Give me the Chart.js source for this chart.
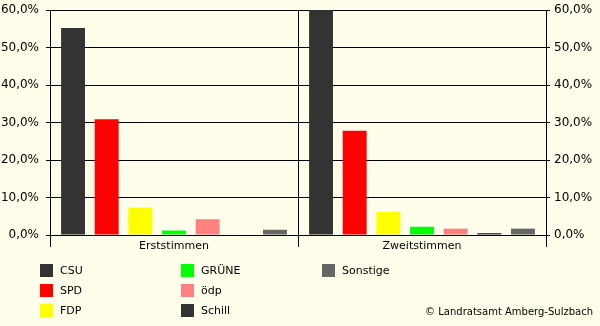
<!DOCTYPE html>
<html>
<head>
<meta charset="utf-8">
<script src="https://cdn.jsdelivr.net/npm/chart.js@4/dist/chart.umd.min.js"></script>
<style>
  html, body { margin: 0; padding: 0; background: #fffeea; }
  #wrap { width: 600px; height: 326px; position: relative; }
</style>
</head>
<body>
<div id="wrap"><canvas id="chart" width="600" height="326"></canvas></div>
<script>
// categories and values (percent)
const categories = ['Erststimmen', 'Zweitstimmen'];
const parties = ['CSU', 'SPD', 'FDP', 'GRÜNE', 'ödp', 'Schill', 'Sonstige'];
const partyColors = ['#333333', '#ff0000', '#ffff00', '#00ff00', '#ff8080', '#333333', '#666666'];
const erststimmen = [55.2, 30.9, 7.3, 1.2, 4.2, null, 1.4];
const zweitstimmen = [60.5, 27.8, 6.2, 2.2, 1.7, 0.5, 1.7];
const yTicks = [0, 10, 20, 30, 40, 50, 60];

const FONT = 'DejaVu Sans';
const fmt = v => v.toFixed(1).replace('.', ',') + '%';

// legend drawn in three columns, filled top to bottom
const legendPlugin = {
  id: 'colLegend',
  afterDraw(chart) {
    const ctx = chart.ctx;
    const colX = [40, 181, 322];
    ctx.save();
    ctx.font = '11px "' + FONT + '"';
    ctx.textBaseline = 'middle';
    ctx.textAlign = 'left';
    parties.forEach((p, i) => {
      const x = colX[Math.floor(i / 3)];
      const y = 264 + 20 * (i % 3);
      ctx.fillStyle = partyColors[i];
      ctx.fillRect(x, y, 13, 13);
      ctx.fillStyle = '#000';
      ctx.fillText(p, x + 20, y + 7);
    });
    ctx.font = '10px "' + FONT + '"';
    ctx.textAlign = 'right';
    ctx.fillText('© Landratsamt Amberg-Sulzbach', 593, 312);
    ctx.restore();
  }
};

function fitY(width) {
  return scale => {
    scale.width = width;
    scale.paddingTop = 0;
    scale.paddingBottom = 0;
  };
}

new Chart(document.getElementById('chart'), {
  type: 'bar',
  data: {
    labels: categories,
    datasets: parties.map((p, i) => ({
      label: p,
      data: [erststimmen[i], zweitstimmen[i]],
      backgroundColor: partyColors[i],
      borderWidth: 0,
      categoryPercentage: 0.95,
      barPercentage: 0.71,
      yAxisID: 'y'
    }))
  },
  options: {
    responsive: false,
    animation: false,
    layout: { padding: { top: 10, left: 0, right: 0, bottom: 0 } },
    plugins: { legend: { display: false }, tooltip: { enabled: false } },
    scales: {
      x: {
        offset: true,
        grid: { display: true, offset: true, color: '#000', lineWidth: 1, tickLength: 12, drawOnChartArea: true },
        border: { color: '#000' },
        ticks: { color: '#000', font: { family: FONT, size: 11 }, padding: -7, maxRotation: 0 },
        afterFit(scale) { scale.height = 91; scale.paddingLeft = 0; scale.paddingRight = 0; }
      },
      y: {
        position: 'left',
        min: 0, max: 60,
        afterBuildTicks(scale) { scale.ticks = yTicks.map(v => ({ value: v })); },
        grid: { color: '#000', lineWidth: 1, tickLength: 4 },
        border: { color: '#000' },
        ticks: { color: '#000', font: { family: FONT, size: 12 }, padding: 7, callback: fmt },
        afterFit: fitY(50)
      },
      y2: {
        position: 'right',
        min: 0, max: 60,
        afterBuildTicks(scale) { scale.ticks = yTicks.map(v => ({ value: v })); },
        grid: { color: '#000', lineWidth: 1, tickLength: 4, drawOnChartArea: false },
        border: { color: '#000' },
        ticks: { color: '#000', font: { family: FONT, size: 12 }, padding: 4, callback: fmt },
        afterFit: fitY(54)
      }
    }
  },
  plugins: [legendPlugin]
});
</script>
</body>
</html>
